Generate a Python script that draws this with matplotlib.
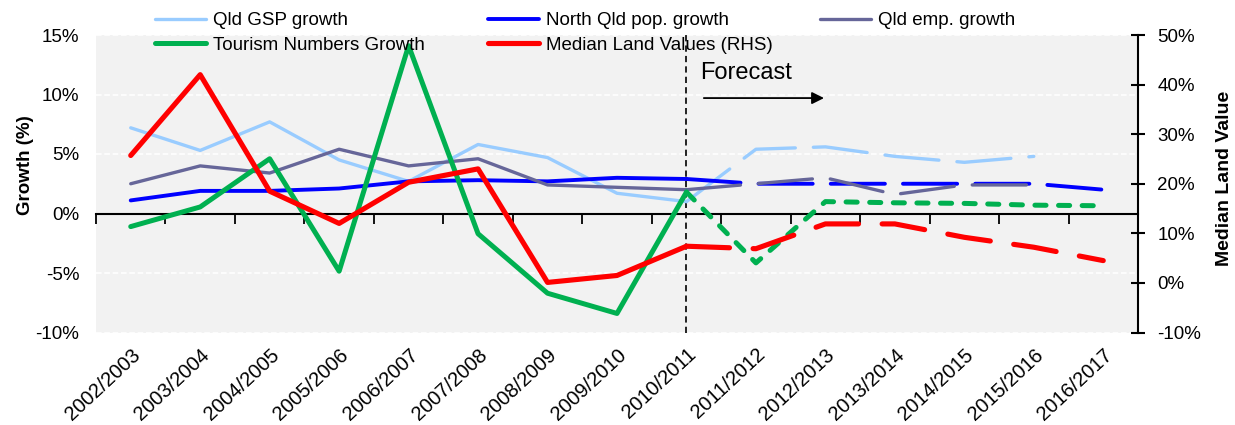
import numpy as np
import matplotlib
matplotlib.use('Agg')
import matplotlib.pyplot as plt
from matplotlib.ticker import FuncFormatter

plt.rcParams['font.family'] = ['Liberation Sans', 'DejaVu Sans']
plt.rcParams['lines.scale_dashes'] = False

years = ['2002/2003', '2003/2004', '2004/2005', '2005/2006', '2006/2007',
         '2007/2008', '2008/2009', '2009/2010', '2010/2011', '2011/2012',
         '2012/2013', '2013/2014', '2014/2015', '2015/2016', '2016/2017']

# growth rates, % (left axis); index 8 onwards is forecast
gsp_growth = [7.2, 5.3, 7.7, 4.5, 2.7, 5.8, 4.7, 1.7, 1.0, 5.4, 5.6, 4.8, 4.3, 4.8]
pop_growth = [1.1, 1.9, 1.9, 2.1, 2.7, 2.8, 2.7, 3.0, 2.9, 2.5, 2.5, 2.5, 2.5, 2.5, 2.0]
emp_growth = [2.5, 4.0, 3.4, 5.4, 4.0, 4.6, 2.4, 2.2, 2.0, 2.5, 3.0, 1.6, 2.4, 2.4]
tourism_growth = [-1.1, 0.55, 4.6, -4.85, 14.1, -1.7, -6.7, -8.4, 1.8, -4.15,
                  1.0, 0.9, 0.85, 0.7, 0.65]
# median land values, % (right axis)
land_values = [25.7, 42.0, 18.5, 12.0, 20.3, 23.0, 0.1, 1.5, 7.4, 6.9,
               11.9, 11.9, 9.2, 7.2, 4.5]

last_actual = 8

fig = plt.figure(figsize=(12.35, 4.25), dpi=100)
ax = fig.add_axes([96 / 1235, 1 - 332.5 / 425, 1042 / 1235, 297.5 / 425])
ax.set_facecolor('#F2F2F2')
ax2 = ax.twinx()

x = np.arange(len(years))


def draw(axis, vals, color, lw, dashes):
    vals = np.asarray(vals, dtype=float)
    n = len(vals)
    line, = axis.plot(x[:last_actual + 1], vals[:last_actual + 1], color=color,
                      lw=lw, solid_capstyle='round', solid_joinstyle='round',
                      zorder=3)
    axis.plot(x[last_actual:n], vals[last_actual:n], color=color, lw=lw,
              dashes=dashes, dash_capstyle='round', dash_joinstyle='round',
              zorder=3)
    return line


h_gsp = draw(ax, gsp_growth, '#99CCFF', 2.4, (39, 13))
h_pop = draw(ax, pop_growth, '#0000FF', 2.8, (39, 13))
h_emp = draw(ax, emp_growth, '#666699', 2.4, (39, 13))
h_tour = draw(ax, tourism_growth, '#00B050', 3.6, (8, 9))
h_land = draw(ax2, land_values, '#FF0000', 3.7, (31, 17))

# forecast divider
ax.axvline(last_actual, color='black', lw=1.2, dashes=(4.5, 3), zorder=2)

ax.annotate('', xy=(9.98, 9.7), xytext=(8.25, 9.7),
            arrowprops=dict(arrowstyle='-|>', color='black', lw=1.3,
                            mutation_scale=18, shrinkA=0, shrinkB=0))
ax.text(8.2, 11.8, 'Forecast', fontsize=17, va='center', ha='left')

# axes styling
ax.set_xlim(-0.5, len(years) - 0.5)
ax.set_ylim(-10, 15)
ax2.set_ylim(-10, 50)
ax.set_yticks(np.arange(-10, 16, 5))
ax2.set_yticks(np.arange(-10, 51, 10))
pct = FuncFormatter(lambda v, p: f'{v:.0f}%')
ax.yaxis.set_major_formatter(pct)
ax2.yaxis.set_major_formatter(pct)
ax.tick_params(axis='y', length=0, labelsize=13.5, pad=12)
ax2.tick_params(axis='y', direction='inout', length=10, width=1.5,
                labelsize=13.5, pad=9)
ax.grid(axis='y', color='white', lw=1.2, dashes=(4, 2))
for gl, t in zip(ax.yaxis.get_gridlines(), ax.get_yticks()):
    if t == 0:
        gl.set_visible(False)
ax.set_axisbelow(True)

ax.set_xticks(x)
ax.set_xticklabels(years, rotation=43, ha='right', va='top',
                   rotation_mode='anchor', fontsize=14.5)
ax.tick_params(axis='x', length=0, pad=9)

for side in ['top', 'left', 'bottom', 'right']:
    ax.spines[side].set_visible(False)
for side in ['top', 'left', 'bottom']:
    ax2.spines[side].set_visible(False)
ax2.spines['right'].set_linewidth(1.5)

# zero line with category boundary ticks
zero_axis = ax.secondary_xaxis(0.4)
zero_axis.set_zorder(1.5)
zero_axis.set_xticks(np.arange(-0.5, len(years) - 1, 1.0))
zero_axis.set_xticklabels([])
zero_axis.tick_params(axis='x', direction='out', length=7, width=1.3)
zero_axis.spines['bottom'].set_linewidth(1.5)

ax.set_ylabel('Growth (%)', fontsize=13.5, fontweight='bold')
ax.yaxis.set_label_coords(-0.0595, 0.563)
ax2.set_ylabel('Median Land Value', fontsize=14, fontweight='bold')
ax2.yaxis.set_label_coords(1.075, 0.519)

# legend: three columns, each placed on its own
legend_cols = [
    ([h_gsp, h_tour], ['Qld GSP growth', 'Tourism Numbers Growth'], 155),
    ([h_pop, h_land], ['North Qld pop. growth', 'Median Land Values (RHS)'], 488),
    ([h_emp], ['Qld emp. growth'], 820),
]
for handles, labels, left in legend_cols:
    fig.legend(handles, labels, loc='upper left',
               bbox_to_anchor=(left / 1235, 1 - 12 / 425),
               frameon=False, fontsize=13.5, handlelength=2.7,
               handletextpad=0.4, labelspacing=0.4, borderpad=0,
               borderaxespad=0)

fig.savefig('out.png', dpi=100)
